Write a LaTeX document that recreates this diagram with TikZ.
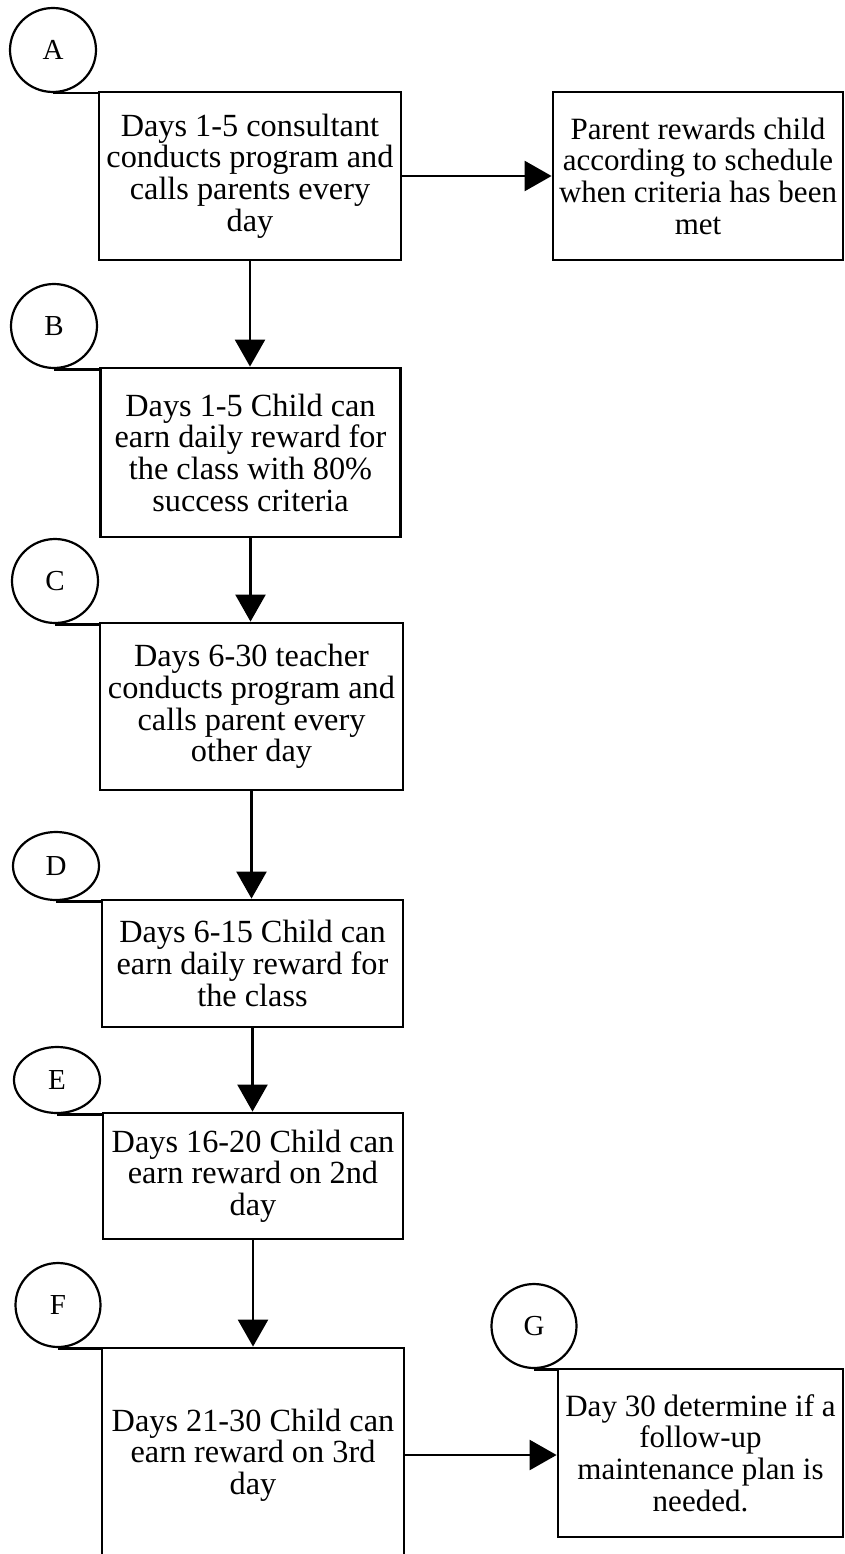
\documentclass[tikz,border=0pt]{standalone}
\usepackage{fontspec}
\setmainfont{Liberation Serif}
\usetikzlibrary{arrows.meta,shapes.geometric}
\tikzset{
  stepbox/.style={draw, line width=2.8pt, inner sep=1pt, align=center,
    font=\fontsize{32.3}{31.7}\selectfont},
  sidebox/.style={stepbox, font=\fontsize{31}{31.7}\selectfont},
  lbl/.style={draw, ellipse, line width=2.2pt, inner sep=0pt,
    font=\fontsize{29}{30}\selectfont},
  flow/.style={line width=2.4pt, -{Triangle[length=27pt,width=30pt]}},
  tie/.style={line width=2.8pt}
}
\begin{document}
\begin{tikzpicture}[x=1pt,y=-1pt]
\useasboundingbox (0,0) rectangle (845,1554);
% circles
\node[lbl, minimum width=86pt, minimum height=84pt] (cA) at (53,50) {A};
\node[lbl, minimum width=86pt, minimum height=84pt] (cB) at (54,326) {B};
\node[lbl, minimum width=86pt, minimum height=84pt] (cC) at (55,581) {C};
\node[lbl, minimum width=86pt, minimum height=68pt] (cD) at (56,866) {D};
\node[lbl, minimum width=86pt, minimum height=66pt] (cE) at (57,1080) {E};
\node[lbl, minimum width=85pt, minimum height=84pt] (cF) at (58,1305) {F};
\node[lbl, minimum width=85pt, minimum height=84pt] (cG) at (534,1326) {G};
% boxes
\node[stepbox, minimum width=302pt, minimum height=168pt] (bA) at (250,176)
  {Days 1-5 consultant\\conducts program and\\calls parents every\\day};
\node[sidebox, minimum width=290pt, minimum height=168pt] (bR) at (698,176)
  {Parent rewards child\\according to schedule\\when criteria has been\\met};
\node[stepbox, minimum width=300pt, minimum height=169pt] (bB) at (250.5,452.5)
  {Days 1-5 Child can\\earn daily reward for\\the class with 80\%\\success criteria};
\node[stepbox, minimum width=303pt, minimum height=167pt] (bC) at (251.5,706.5)
  {Days 6-30 teacher\\conducts program and\\calls parent every\\other day};
\node[stepbox, minimum width=301pt, minimum height=127pt] (bD) at (252.5,963.5)
  {Days 6-15 Child can\\earn daily reward for\\the class};
\node[stepbox, minimum width=300pt, minimum height=126pt] (bE) at (253,1176)
  {Days 16-20 Child can\\earn reward on 2nd\\day};
\node[stepbox, minimum width=302pt, minimum height=214pt] (bF) at (253,1455)
  {Days 21-30 Child can\\earn reward on 3rd\\day};
\node[sidebox, minimum width=285pt, minimum height=168pt] (bG) at (700.5,1453)
  {Day 30 determine if a\\follow-up\\maintenance plan is\\needed.};
% ties from circles to boxes
\draw[tie] (cA.south) -- (cA.south -| bA.west);
\draw[tie] (cB.south) -- (cB.south -| bB.west);
\draw[tie] (cC.south) -- (cC.south -| bC.west);
\draw[tie] (cD.south) -- (cD.south -| bD.west);
\draw[tie] (cE.south) -- (cE.south -| bE.west);
\draw[tie] (cF.south) -- (cF.south -| bF.west);
\draw[tie] (cG.south) -- (cG.south -| bG.west);
% arrows
\draw[flow] (bA.east) -- (bR.west);
\draw[flow] (bA.south) -- (bA.south |- bB.north);
\draw[flow] (bB.south) -- (bB.south |- bC.north);
\draw[flow] (bC.south) -- (bC.south |- bD.north);
\draw[flow] (bD.south) -- (bD.south |- bE.north);
\draw[flow] (bE.south) -- (bE.south |- bF.north);
\draw[flow] (bF.east) -- (bF.east -| bG.west);
\end{tikzpicture}
\end{document}
